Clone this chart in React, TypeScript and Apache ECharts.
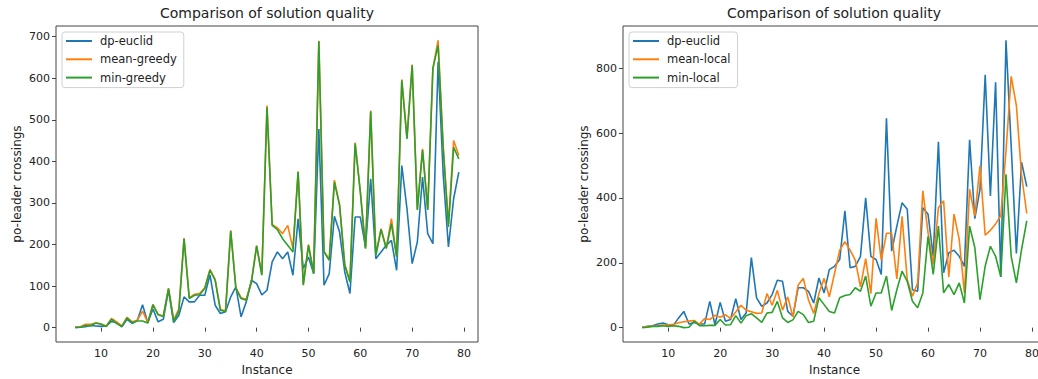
import React, { useEffect, useRef } from "react";
import * as echarts from "echarts";

const instances = [5, 6, 7, 8, 9, 10, 11, 12, 13, 14, 15, 16, 17, 18, 19, 20, 21, 22, 23, 24, 25, 26, 27, 28, 29, 30, 31, 32, 33, 34, 35, 36, 37, 38, 39, 40, 41, 42, 43, 44, 45, 46, 47, 48, 49, 50, 51, 52, 53, 54, 55, 56, 57, 58, 59, 60, 61, 62, 63, 64, 65, 66, 67, 68, 69, 70, 71, 72, 73, 74, 75, 76, 77, 78, 79];

// Left panel
const dpEuclidLeft = [0, 1, 2, 5, 4, 3, 4, 15, 12, 2, 20, 10, 18, 55, 12, 45, 14, 20, 90, 12, 30, 74, 62, 62, 78, 78, 127, 54, 34, 38, 74, 98, 26, 62, 114, 106, 79, 90, 158, 182, 166, 182, 126, 262, 142, 170, 130, 478, 102, 130, 268, 230, 134, 82, 266, 266, 194, 358, 166, 182, 198, 210, 138, 390, 286, 154, 206, 362, 226, 202, 639, 366, 194, 310, 374];
const meanGreedy = [1, 2, 8, 8, 11, 9, 4, 22, 14, 4, 25, 14, 18, 40, 12, 56, 32, 28, 95, 18, 45, 215, 72, 80, 82, 96, 140, 116, 44, 40, 234, 96, 72, 68, 112, 198, 128, 534, 248, 240, 226, 246, 190, 376, 104, 200, 132, 690, 184, 164, 355, 296, 152, 112, 445, 328, 192, 522, 176, 238, 192, 262, 172, 597, 456, 633, 285, 430, 285, 625, 691, 432, 250, 450, 414];
const minGreedy = [1, 1, 5, 5, 11, 8, 3, 20, 10, 3, 23, 12, 16, 16, 11, 55, 31, 27, 94, 15, 39, 214, 70, 78, 79, 94, 138, 114, 42, 39, 232, 94, 70, 66, 110, 196, 126, 530, 246, 236, 214, 198, 182, 374, 102, 198, 130, 689, 182, 162, 350, 294, 150, 110, 443, 326, 190, 520, 174, 236, 190, 250, 170, 595, 454, 631, 283, 427, 283, 623, 679, 430, 242, 434, 406];

// Right panel
const dpEuclidRight = [1, 4, 6, 11, 14, 9, 7, 30, 50, 11, 16, 11, 11, 81, 9, 78, 20, 25, 89, 25, 45, 216, 92, 66, 76, 102, 146, 143, 50, 35, 123, 123, 112, 76, 153, 107, 179, 189, 210, 360, 185, 189, 220, 400, 220, 210, 164, 646, 236, 313, 385, 365, 117, 112, 370, 350, 220, 573, 169, 231, 239, 220, 189, 579, 336, 427, 780, 406, 757, 156, 886, 560, 229, 510, 435];
const meanLocal = [1, 3, 5, 6, 8, 8, 10, 15, 18, 20, 22, 10, 28, 25, 38, 32, 40, 28, 48, 69, 54, 49, 44, 45, 105, 69, 115, 54, 95, 33, 131, 152, 85, 44, 105, 152, 95, 167, 239, 265, 239, 208, 126, 213, 105, 337, 208, 291, 291, 150, 343, 148, 97, 138, 422, 293, 195, 370, 391, 156, 350, 272, 107, 427, 344, 499, 285, 300, 320, 345, 545, 775, 685, 470, 352];
const minLocal = [0, 1, 4, 4, 6, 4, 6, 4, 0, 1, 20, 6, 6, 7, 7, 25, 8, 9, 37, 14, 37, 43, 30, 16, 45, 47, 81, 30, 16, 24, 50, 40, 16, 20, 92, 71, 50, 45, 92, 99, 102, 123, 112, 159, 66, 107, 107, 159, 53, 117, 174, 143, 81, 61, 107, 282, 164, 313, 107, 133, 102, 138, 76, 313, 247, 86, 190, 251, 220, 157, 473, 220, 138, 241, 329];

const xTicks = [10, 20, 30, 40, 50, 60, 70, 80];
const yTicksLeft = [0, 100, 200, 300, 400, 500, 600, 700];
const yTicksRight = [0, 200, 400, 600, 800];

const TITLE = "Comparison of solution quality";
const BLUE = "#1f77b4";
const ORANGE = "#ff7f0e";
const GREEN = "#2ca02c";
const FONT = "DejaVu Sans";
const TEXT = "#222";
const AXIS = "#444";

const pairs = (ys: number[]) => instances.map((x, i) => [x, ys[i]]);

const xAxisFor = (gridIndex: number) => ({
  type: "value",
  gridIndex,
  min: 1.3,
  max: 82.7,
  name: "Instance",
  nameLocation: "middle",
  nameGap: 22,
  nameTextStyle: { fontFamily: FONT, fontSize: 12, color: TEXT },
  axisLine: { show: false },
  splitLine: { show: false },
  axisTick: { show: true, inside: false, length: 4, customValues: xTicks, lineStyle: { color: AXIS, width: 1 } },
  axisLabel: { customValues: xTicks, margin: 6, fontFamily: FONT, fontSize: 11, color: TEXT },
});

const yAxisFor = (gridIndex: number, min: number, max: number, ticks: number[]) => ({
  type: "value",
  gridIndex,
  min,
  max,
  name: "po-leader crossings",
  nameLocation: "middle",
  nameRotate: 90,
  nameGap: 33,
  nameTextStyle: { fontFamily: FONT, fontSize: 12, color: TEXT },
  axisLine: { show: false },
  splitLine: { show: false },
  axisTick: { show: true, inside: false, length: 4, customValues: ticks, lineStyle: { color: AXIS, width: 1 } },
  axisLabel: { customValues: ticks, margin: 6, fontFamily: FONT, fontSize: 11, color: TEXT },
});

const lineSeries = (name: string, data: number[], color: string, idx: number) => ({
  type: "line",
  name,
  xAxisIndex: idx,
  yAxisIndex: idx,
  data: pairs(data),
  showSymbol: false,
  symbol: "none",
  lineStyle: { color, width: 1.6 },
  itemStyle: { color },
});

const legendFor = (left: number, names: string[]) => ({
  show: true,
  orient: "vertical",
  left,
  top: 32,
  data: names,
  icon: "rect",
  itemWidth: 26,
  itemHeight: 2,
  itemGap: 4.3,
  padding: [2, 7, 3, 4],
  borderColor: "#d0d0d0",
  borderWidth: 1,
  borderRadius: 3,
  backgroundColor: "rgba(255,255,255,0.8)",
  textStyle: { fontFamily: FONT, fontSize: 11.5, lineHeight: 14, color: TEXT, padding: [0, 0, 0, 3] },
});

const gridFor = (left: number, width: number) => ({
  left,
  top: 26,
  width,
  height: 316,
  containLabel: false,
  outerBoundsMode: "none",
  show: true,
  borderColor: AXIS,
  borderWidth: 1,
  backgroundColor: "transparent",
});

export default function App() {
  const ref = useRef<HTMLDivElement>(null);
  useEffect(() => {
    if (!ref.current) return;
    const chart = echarts.init(ref.current, null, { renderer: "svg" });
    chart.setOption({
      animation: false,
      backgroundColor: "#fff",
      grid: [gridFor(56, 422), gridFor(623, 423)],
      xAxis: [xAxisFor(0), xAxisFor(1)],
      yAxis: [yAxisFor(0, -34.5, 725.5, yTicksLeft), yAxisFor(1, -44.3, 930.3, yTicksRight)],
      legend: [
        legendFor(62, ["dp-euclid", "mean-greedy", "min-greedy"]),
        legendFor(629, ["dp-euclid", "mean-local", "min-local"]),
      ],
      graphic: [
        { type: "text", x: 267, y: 6, style: { text: TITLE, textAlign: "center", fontFamily: FONT, fontSize: 14, fill: TEXT } },
        { type: "text", x: 834, y: 6, style: { text: TITLE, textAlign: "center", fontFamily: FONT, fontSize: 14, fill: TEXT } },
      ],
      series: [
        lineSeries("dp-euclid", dpEuclidLeft, BLUE, 0),
        lineSeries("mean-greedy", meanGreedy, ORANGE, 0),
        lineSeries("min-greedy", minGreedy, GREEN, 0),
        lineSeries("dp-euclid", dpEuclidRight, BLUE, 1),
        lineSeries("mean-local", meanLocal, ORANGE, 1),
        lineSeries("min-local", minLocal, GREEN, 1),
      ],
    });
    return () => chart.dispose();
  }, []);
  return <div ref={ref} style={{ position: "absolute", left: 0, top: 0, width: 1038, height: 379 }} />;
}
